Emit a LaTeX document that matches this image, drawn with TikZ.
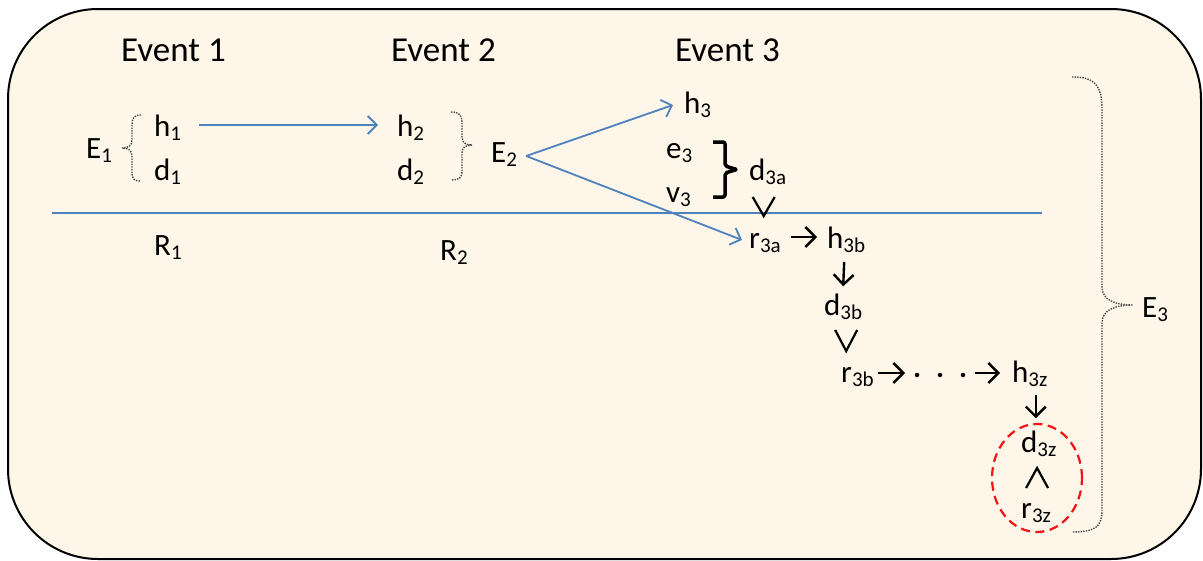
\documentclass[tikz,border=0pt]{standalone}
\usepackage{fontspec}
\setmainfont{Carlito}
\usetikzlibrary{arrows.meta,shapes.geometric}
\definecolor{cream}{RGB}{253,246,233}
\definecolor{offblue}{RGB}{79,129,189}
\definecolor{dotgray}{RGB}{70,70,70}
\definecolor{ringred}{RGB}{240,20,20}
% label with a lowered subscript
\newcommand\lsub[2]{#1\raisebox{-4.5pt}{\fontsize{21}{21}\selectfont #2}}
\begin{document}
\begin{tikzpicture}[x=1pt,y=-1pt,
  lab/.style={font=\fontsize{31}{36}\selectfont, inner sep=0pt, anchor=base west},
  evt/.style={font=\fontsize{35}{40}\selectfont, inner sep=0pt, anchor=base west},
  bluearrow/.style={draw=offblue, line width=1.8pt, -{Straight Barb[length=9pt,width=18pt]}},
  blackarrow/.style={draw=black, line width=2.4pt, -{Straight Barb[length=10pt,width=20pt]}},
  vee/.style={draw=black, line width=2.2pt, line join=miter},
  bracedot/.style={draw=dotgray, line width=1.4pt, dash pattern=on 1.4pt off 1.2pt},
  dotnode/.style={circle, fill=black, inner sep=0pt, minimum size=4.5pt}]
\useasboundingbox (0,0) rectangle (1203,560);

% frame
\draw[fill=cream, line width=2pt, rounded corners=90pt] (8,9) rectangle (1201,559);

% headings
\node[evt] (ev1) at (121,61) {Event 1};
\node[evt] (ev2) at (391,61) {Event 2};
\node[evt] (ev3) at (675,61) {Event 3};

% event 1 and 2
\node[lab] (E1) at (86,158) {\lsub{E}{1}};
\node[lab] (h1) at (154,136) {\lsub{h}{1}};
\node[lab] (d1) at (154,180) {\lsub{d}{1}};
\node[lab] (h2) at (397,136) {\lsub{h}{2}};
\node[lab] (d2) at (397,180) {\lsub{d}{2}};
\node[lab] (E2) at (491,162) {\lsub{E}{2}};
\node[lab] (R1) at (154,255) {\lsub{R}{1}};
\node[lab] (R2) at (440,260) {\lsub{R}{2}};

% event 3
\node[lab] (h3) at (684,113) {\lsub{h}{3}};
\node[lab] (e3) at (666,158) {\lsub{e}{3}};
\node[lab] (v3) at (666,202) {\lsub{v}{3}};
\node[lab] (d3a) at (749,180) {\lsub{d}{3a}};
\node[lab] (r3a) at (749,248) {\lsub{r}{3a}};
\node[lab] (h3b) at (827,248) {\lsub{h}{3b}};
\node[lab] (d3b) at (824,315) {\lsub{d}{3b}};
\node[lab] (r3b) at (841,382) {\lsub{r}{3b}};
\node[dotnode] (dA) at (917,375) {};
\node[dotnode] (dB) at (940,375) {};
\node[dotnode] (dC) at (963,375) {};
\node[lab] (h3z) at (1012,382) {\lsub{h}{3z}};
\node[lab] (d3z) at (1021,452) {\lsub{d}{3z}};
\node[lab] (r3z) at (1021,518) {\lsub{r}{3z}};
\node[lab] (E3) at (1142,317) {\lsub{E}{3}};

% dashed ring round d3z and r3z
\node[ellipse, draw=ringred, line width=2.2pt, dash pattern=on 9pt off 5.5pt,
      minimum width=90pt, minimum height=108pt, inner sep=0pt] (ring) at (1037,478) {};

% timeline separator
\draw[offblue, line width=1.6pt] (52,213) -- (1042,213);

% dotted braces
\draw[bracedot] (141,115) .. controls (134,115) and (132,118) .. (132,125) -- (132,140)
  .. controls (132,146) and (128,148) .. (122,148)
  .. controls (128,148) and (132,150) .. (132,156) -- (132,172)
  .. controls (132,179) and (134,181) .. (141,181);
\draw[bracedot] (451,112) .. controls (459,112) and (462,115) .. (462,122) -- (462,137)
  .. controls (462,143) and (466,145) .. (472,145)
  .. controls (466,145) and (462,147) .. (462,153) -- (462,171)
  .. controls (462,178) and (459,180) .. (451,180);
\draw[bracedot] (1072,77) .. controls (1095,77) and (1102,85) .. (1102,110) -- (1102,287)
  .. controls (1102,300) and (1115,305) .. (1133,305)
  .. controls (1115,305) and (1102,310) .. (1102,323) -- (1102,510)
  .. controls (1102,527) and (1095,532) .. (1072,532);

% bold bracket joining e3 and v3
\draw[line width=3.5pt, line join=round, rounded corners=2pt]
  (713,142) -- (725,142) -- (725,166) -- (737,169.5) -- (725,173) -- (725,197) -- (713,197);

% blue arrows
\draw[bluearrow] ([xshift=18pt,yshift=11pt]h1.base east) -- ([xshift=-19pt,yshift=11pt]h2.base west);
\draw[bluearrow] ([xshift=9pt,yshift=6pt]E2.base east) -- ([xshift=-11pt,yshift=8pt]h3.base west);
\draw[bluearrow] ([xshift=9pt,yshift=6pt]E2.base east) -- ([xshift=-7pt,yshift=8pt]r3a.base west);

% black arrows
\draw[blackarrow] ([xshift=10pt,yshift=11pt]r3a.base east) -- ([xshift=-10pt,yshift=11pt]h3b.base west);
\draw[blackarrow] ([xshift=-2pt,yshift=-14pt]h3b.base) -- ([yshift=7pt]d3b.north);
\draw[blackarrow] ([xshift=4pt,yshift=9pt]r3b.base east) -- ([xshift=-12pt,yshift=2pt]dA.center);
\draw[blackarrow] ([xshift=12pt,yshift=2pt]dC.center) -- ([xshift=-12pt,yshift=9pt]h3z.base west);
\draw[blackarrow] ([xshift=6pt,yshift=-13pt]h3z.base) -- ([xshift=-3pt,yshift=12pt]d3z.north);

% open vee marks
\draw[vee] ([xshift=-15pt,yshift=-17pt]d3a.base) -- ++(11,19) -- ++(11,-19);
\draw[vee] ([xshift=-8pt,yshift=-15pt]d3b.base) -- ++(11,21) -- ++(11,-21);
\draw[vee] ([xshift=-10pt,yshift=30pt]r3z.base) -- ++(11,-20) -- ++(11,20);
\end{tikzpicture}
\end{document}
